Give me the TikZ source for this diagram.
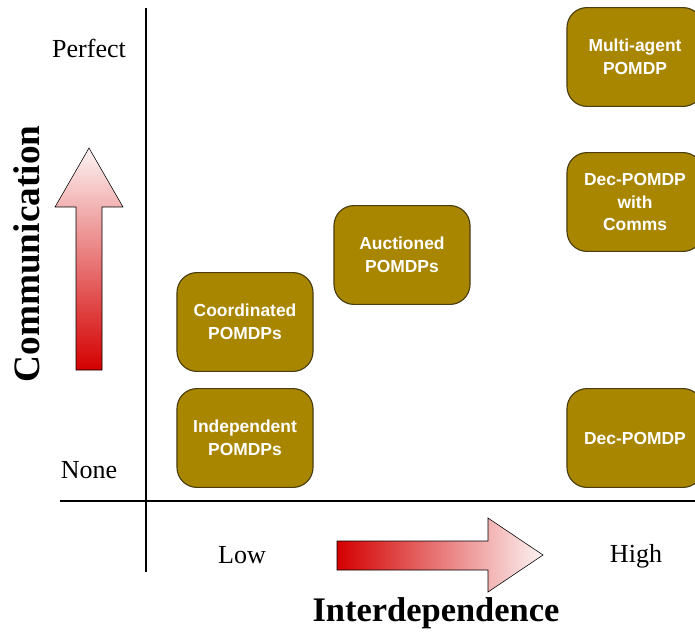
\documentclass[tikz,border=0pt]{standalone}
\usepackage{fontspec}
\setmainfont{Liberation Serif}
\newfontfamily\boxfont{Liberation Sans}
\usetikzlibrary{positioning}
\definecolor{pomdpgold}{HTML}{A98600}
\definecolor{pomdpedge}{HTML}{4A3D10}
\definecolor{arrowred}{HTML}{D40000}
\definecolor{arrowpale}{HTML}{FDF3F3}

\begin{document}
\begin{tikzpicture}[x=0.025cm, y=0.025cm,
  pomdp/.style={draw=pomdpedge, thick, fill=pomdpgold, rounded corners=0.5cm,
    minimum width=3.4cm, minimum height=2.47cm, align=center, text=white,
    font=\boxfont\bfseries\fontsize{12.4}{16.3}\selectfont},
  axislabel/.style={font=\fontsize{18.5}{22}\selectfont},
  axistitle/.style={font=\bfseries\fontsize{24.5}{28}\selectfont}]

  \clip (0,0) rectangle (695,633);

  % Axes
  \draw[thick] (146,625) -- (146,61);
  \draw[thick] (60,132) -- (695,132);

  % Axis ticks
  \node[axislabel] (perfect) at (89,585) {Perfect};
  \node[axislabel] (none) at (89,163) {None};
  \node[axislabel] (low) at (242,78) {Low};
  \node[axislabel] (high) at (636,77) {High};

  % Axis titles
  \node[axistitle] (interdep) at (436,20) {Interdependence};
  \node[axistitle, font=\bfseries\fontsize{26.5}{28}\selectfont, rotate=90] (comm) at (27,379) {Communication};

  % Gradient arrows
  \shade[bottom color=arrowred, top color=arrowpale, draw=black]
    (76,263) -- (76,426) -- (55,426) -- (89,485) -- (123,426) -- (102,426) -- (102,263) -- cycle;
  \shade[left color=arrowred, right color=arrowpale, draw=black]
    (337,92) -- (488,92) -- (488,115) -- (543,78) -- (488,41) -- (488,63) -- (337,63) -- cycle;

  % Models
  \node[pomdp] (indep) at (245,195) {Independent\\POMDPs};
  \node[pomdp] (coord) at (245,311) {Coordinated\\POMDPs};
  \node[pomdp] (auction) at (402,378) {Auctioned\\POMDPs};
  \node[pomdp] (multi) at (635,576) {Multi-agent\\POMDP};
  \node[pomdp] (deccomm) at (635,431) {Dec-POMDP\\with\\Comms};
  \node[pomdp] (dec) at (635,195) {Dec-POMDP};
\end{tikzpicture}
\end{document}
